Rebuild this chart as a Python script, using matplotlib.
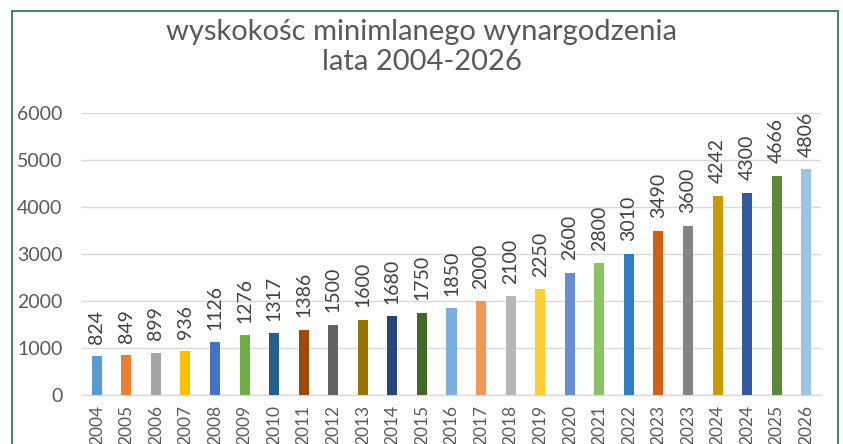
import matplotlib
matplotlib.use("Agg")
import matplotlib.pyplot as plt
from matplotlib.patches import Rectangle

plt.rcParams['font.family'] = ['Lato', 'DejaVu Sans']

years = ["2004", "2005", "2006", "2007", "2008", "2009", "2010", "2011", "2012",
         "2013", "2014", "2015", "2016", "2017", "2018", "2019", "2020", "2021",
         "2022", "2023", "2023", "2024", "2024", "2025", "2026"]
values = [824, 849, 899, 936, 1126, 1276, 1317, 1386, 1500, 1600, 1680, 1750,
          1850, 2000, 2100, 2250, 2600, 2800, 3010, 3490, 3600, 4242, 4300,
          4666, 4806]
colors = ["#5B9BD5", "#ED7D31", "#A5A5A5", "#FFC000", "#4472C4", "#70AD47",
          "#255E91", "#9E480E", "#636363", "#997300", "#264478", "#43682B",
          "#7CAFDD", "#F1975A", "#B7B7B7", "#FFCD33", "#698ED0", "#8CC168",
          "#327DC2", "#D26012", "#848484", "#CC9A00", "#335AA1", "#5A8A39",
          "#9DC3E6"]
yticks = [0, 1000, 2000, 3000, 4000, 5000, 6000]
title = "wyskokośc minimlanego wynargodzenia\nlata 2004-2026"

fig = plt.figure(figsize=(8.43, 4.44), dpi=100)
ax = fig.add_axes([82/843, 49/444, (821-82)/843, (395-113)/444])

x = list(range(len(years)))
ax.bar(x, values, width=0.34, color=colors, zorder=3)
ax.set_xlim(-0.5, len(years) - 0.5)
ax.set_ylim(0, 6000)
ax.set_yticks(yticks)
ax.set_yticklabels([str(t) for t in yticks], fontsize=14, color="#595959")
ax.set_xticks(x)
ax.set_xticklabels(years, rotation=90, fontsize=12.5, color="#595959")
ax.tick_params(axis='both', length=0)
ax.tick_params(axis='y', pad=14)
ax.tick_params(axis='x', pad=7)
ax.grid(axis='y', color="#D9D9D9", linewidth=1.0, zorder=0)
for s in ["top", "right", "left"]:
    ax.spines[s].set_visible(False)
ax.spines["bottom"].set_color("#D9D9D9")
ax.spines["bottom"].set_linewidth(1.0)

for xi, v in zip(x, values):
    ax.annotate(str(v), (xi, v), xytext=(0, 9), textcoords="offset points",
                rotation=90, ha="center", va="bottom", fontsize=14,
                color="#404040")

fig.text(0.5, 0.958, title, ha="center", va="top", fontsize=21,
         color="#595959", linespacing=1.2)

border = Rectangle((12/843, -0.05), (838-12)/843, 1.05 - 11/444,
                   transform=fig.transFigure, fill=False,
                   edgecolor="#217346", linewidth=1.2)
fig.patches.append(border)

fig.savefig("out.png", dpi=100)
